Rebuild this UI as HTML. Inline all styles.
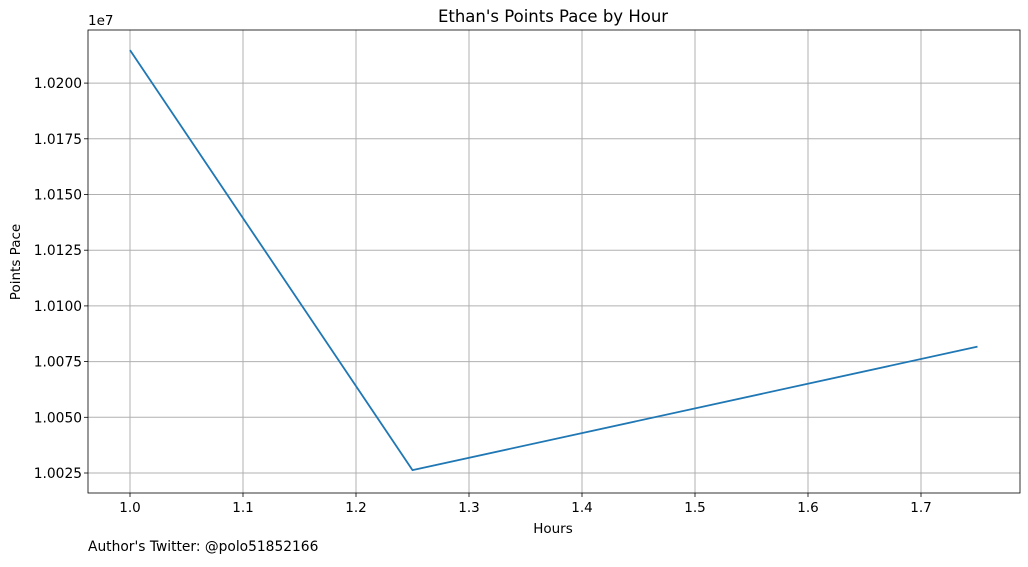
<!DOCTYPE html>
<html><head><meta charset="utf-8"><style>
body{margin:0;background:#fff;font-family:"Liberation Sans","DejaVu Sans",sans-serif}
text{font-family:"DejaVu Sans","Liberation Sans",sans-serif}
</style></head><body>
<svg id="chart" width="1028" height="562" xmlns="http://www.w3.org/2000/svg"></svg>
<script>
const hours = [1.0, 1.25, 1.75];
const pace = [10214800, 10026300, 10081700];
const xTicks = [1.0, 1.1, 1.2, 1.3, 1.4, 1.5, 1.6, 1.7];
const yTicks = [10025000, 10050000, 10075000, 10100000, 10125000, 10150000, 10175000, 10200000];
const yTickLabels = ["1.0025","1.0050","1.0075","1.0100","1.0125","1.0150","1.0175","1.0200"];

const svg = document.getElementById('chart');
const NS = 'http://www.w3.org/2000/svg';
const L=88,R=1020,T=30,B=493;
const xs = v => 130 + (v-1.0)*1130;
const ys = v => 473 - (v-10025000)/25000*55.7;
function mk(tag, attrs, parent){const e=document.createElementNS(NS,tag);for(const k in attrs)e.setAttribute(k,attrs[k]);(parent||svg).appendChild(e);return e;}

const grid = mk('g',{});


xTicks.forEach((t,i)=>{
  const x=xs(t);
  const gl=mk('line',{x1:x,x2:x,y1:T,y2:B,stroke:'#b0b0b0','stroke-width':1},grid);
  
  
  mk('line',{x1:x,x2:x,y1:B,y2:B+4,stroke:'#000','stroke-width':0.8});
  const tx=mk('text',{x:x,y:B+19,'font-size':13.5,'text-anchor':'middle',fill:'#000'});
  tx.textContent=t.toFixed(1);
  
  
});
yTicks.forEach((t,i)=>{
  const y=ys(t);
  const gl=mk('line',{x1:L,x2:R,y1:y,y2:y,stroke:'#b0b0b0','stroke-width':1},grid);
  
  
  mk('line',{x1:L-4,x2:L,y1:y,y2:y,stroke:'#000','stroke-width':0.8});
  const tx=mk('text',{x:L-6,y:y+5,'font-size':13.8,'text-anchor':'end',fill:'#000'});
  tx.textContent=yTickLabels[i];
  
  
});
const line=mk('polyline',{points:hours.map((h,i)=>xs(h)+','+ys(pace[i])).join(' '),fill:'none',stroke:'#1f77b4','stroke-width':1.8});


const frame=mk('rect',{x:L,y:T,width:R-L,height:B-T,fill:'none',stroke:'#000','stroke-width':0.8});


function label(txt,attrs,name){const e=mk('text',Object.assign({fill:'#000'},attrs));e.textContent=txt;return e;}
label("Ethan's Points Pace by Hour",{x:553,y:22,'font-size':16.5,'text-anchor':'middle'},'chart-title');
label("Hours",{x:553,y:533,'font-size':13.5,'text-anchor':'middle'},'x-axis-title');
label("Points Pace",{x:20,y:262,'font-size':13.5,'text-anchor':'middle',transform:'rotate(-90 20 262)'},'y-axis-title');
label("1e7",{x:88,y:25,'font-size':13.5},'y-offset-label');
label("Author's Twitter: @polo51852166",{x:88,y:551,'font-size':13.8},'author-credit');
</script>
</body></html>
